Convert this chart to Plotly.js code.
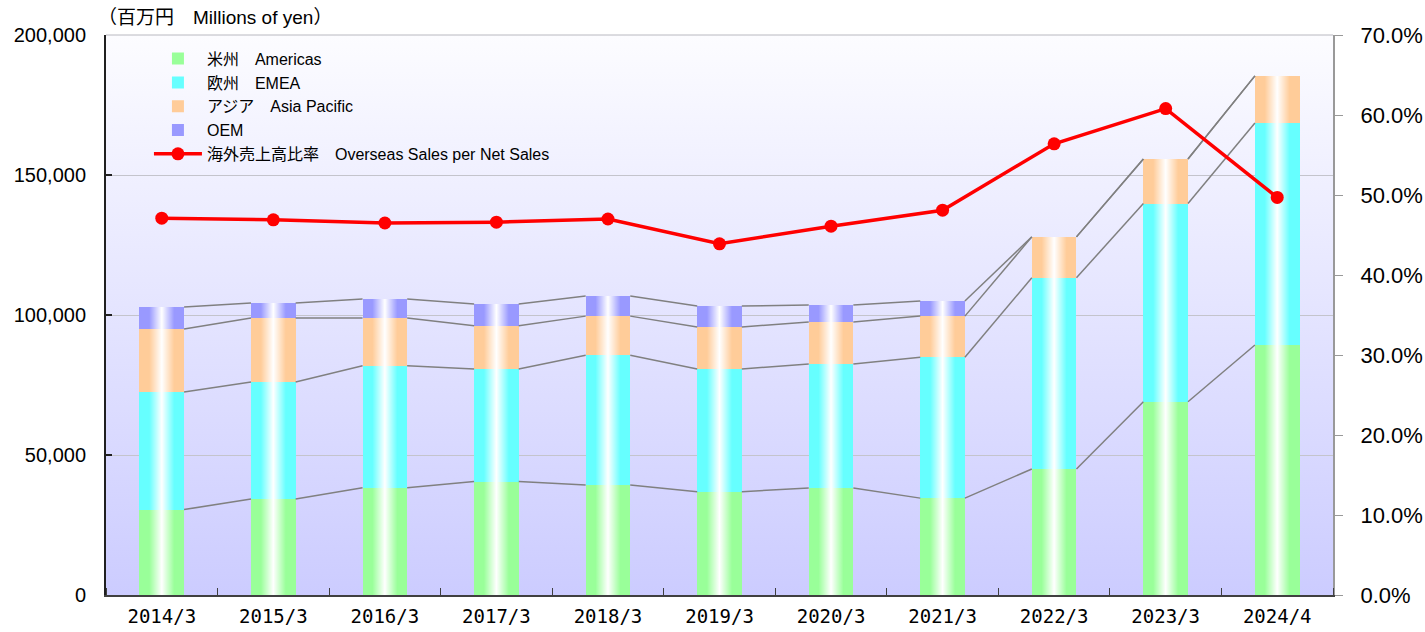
<!DOCTYPE html>
<html>
<head>
<meta charset="utf-8">
<script src="https://cdn.plot.ly/plotly-3.0.1.min.js"></script>
<style>html,body{margin:0;padding:0;background:#fff;}#chart{width:1425px;height:632px;}</style>
</head>
<body>
<div id="chart"></div>
<script>
// ---- data (millions of yen / percent) ----
const categories = ['2014/3','2015/3','2016/3','2017/3','2018/3','2019/3','2020/3','2021/3','2022/3','2023/3','2024/4'];
const americas = [30500, 34300, 38300, 40500, 39300, 36900, 38200, 34600, 45000, 69000, 89300];
const emea     = [42000, 41800, 43600, 40200, 46300, 43800, 44300, 50300, 68300, 70800, 79300];
const asia     = [22500, 22800, 17000, 15500, 14000, 15000, 15000, 14700, 14600, 15900, 16800];
const oem      = [7900, 5400, 6800, 7700, 7200, 7500, 6100, 5400, 0, 0, 0];
const overseasRatio = [47.1, 46.9, 46.5, 46.6, 47.0, 43.9, 46.1, 48.1, 56.4, 60.8, 49.7];

const seriesNames = ['米州　Americas', '欧州　EMEA', 'アジア　Asia Pacific', 'OEM'];
const ratioName = '海外売上高比率　Overseas Sales per Net Sales';

// ---- styling ----
const colors = ['#99ff99', '#66ffff', '#ffcc99', '#9999ff'];
const BW = 0.4;
const xs = categories.map((_, i) => i);
const series = [americas, emea, asia, oem];

const traces = [];
series.forEach((vals, k) => {
  traces.push({
    type: 'bar', x: xs, y: vals, name: seriesNames[k], width: BW,
    marker: {color: colors[k], line: {width: 0}},
    hoverinfo: 'y+name'
  });
});

// cumulative tops
const cums = [];
let run = xs.map(() => 0);
series.forEach(vals => { run = run.map((r, i) => r + vals[i]); cums.push(run.slice()); });
const totals = cums[cums.length - 1];

// white highlight in each bar column
xs.forEach(i => {
  traces.push({
    type: 'scatter', mode: 'none', fill: 'toself',
    x: [i - BW/2, i + BW/2, i + BW/2, i - BW/2, i - BW/2],
    y: [0, 0, totals[i], totals[i], 0],
    fillgradient: {
      type: 'horizontal', start: i - BW/2, stop: i + BW/2,
      colorscale: [[0, 'rgba(255,255,255,0)'], [0.22, 'rgba(255,255,255,0)'], [0.5, 'rgba(255,255,255,1)'], [0.78, 'rgba(255,255,255,0)'], [1, 'rgba(255,255,255,0)']]
    },
    showlegend: false, hoverinfo: 'skip'
  });
});

// connector lines between bars
const cx = [], cy = [];
cums.forEach(c => {
  for (let i = 0; i < xs.length - 1; i++) {
    cx.push(i + BW/2, i + 1 - BW/2, null);
    cy.push(c[i], c[i + 1], null);
  }
});
traces.push({
  type: 'scatter', mode: 'lines', x: cx, y: cy,
  line: {color: '#808080', width: 1.5}, showlegend: false, hoverinfo: 'skip'
});

// ratio line
traces.push({
  type: 'scatter', mode: 'lines+markers', x: xs, y: overseasRatio, yaxis: 'y2',
  name: ratioName, line: {color: '#ff0000', width: 3.5},
  marker: {color: '#ff0000', size: 13}
});

const bgSvg = '<svg xmlns="http://www.w3.org/2000/svg" width="10" height="100" viewBox="0 0 10 100" preserveAspectRatio="none"><defs><linearGradient id="g" x1="0" y1="0" x2="0" y2="1"><stop offset="0" stop-color="#fcfcff"/><stop offset="1" stop-color="#ccccff"/></linearGradient></defs><rect width="10" height="100" fill="url(#g)"/></svg>';

const baseFont = 'Liberation Sans, Arial, Noto Sans CJK JP, sans-serif';

const layout = {
  width: 1425, height: 632,
  margin: {l: 106, r: 92, t: 35, b: 37},
  paper_bgcolor: '#ffffff', plot_bgcolor: 'rgba(0,0,0,0)',
  barmode: 'stack', bargap: 0.6,
  font: {family: baseFont, color: '#000'},
  showlegend: true,
  legend: {
    x: 0.035, y: 0.988, xanchor: 'left', yanchor: 'top',
    bgcolor: 'rgba(0,0,0,0)', traceorder: 'normal',
    font: {size: 16, family: baseFont}, itemwidth: 48, tracegroupgap: 0
  },
  xaxis: {
    range: [-0.5, 10.5], tickmode: 'array', tickvals: xs, ticktext: categories,
    ticks: '', showgrid: false, zeroline: false,
    showline: true, linecolor: '#404040', linewidth: 2,
    ticklabelstandoff: 3,
    tickfont: {size: 19, family: 'DejaVu Sans Mono, monospace'},
    minor: {tickmode: 'linear', tick0: 0.5, dtick: 1, ticks: 'inside', ticklen: 7, tickcolor: '#404040', tickwidth: 1, showgrid: false}
  },
  yaxis: {
    range: [0, 200000], tickmode: 'linear', tick0: 0, dtick: 50000, tickformat: ',.0f',
    showgrid: true, gridcolor: '#c4c4cc', gridwidth: 1, zeroline: false,
    showline: true, linecolor: '#202020', linewidth: 2,
    ticks: 'inside', ticklen: 6, tickcolor: '#202020', tickwidth: 2,
    ticklabelstandoff: 14,
    tickfont: {size: 20}
  },
  yaxis2: {
    overlaying: 'y', side: 'right', range: [0, 70], tickmode: 'linear', tick0: 0, dtick: 10,
    tickformat: '.1f', ticksuffix: '%', showgrid: false, zeroline: false,
    showline: true, linecolor: '#999999', linewidth: 2,
    ticks: 'outside', ticklen: 8, tickcolor: '#999999', tickwidth: 1,
    ticklabelstandoff: 13,
    tickfont: {size: 22}
  },
  images: [{
    source: 'data:image/svg+xml;charset=utf-8,' + encodeURIComponent(bgSvg),
    xref: 'paper', yref: 'paper', x: 0, y: 1, sizex: 1, sizey: 1,
    xanchor: 'left', yanchor: 'top', sizing: 'stretch', layer: 'below'
  }],
  shapes: [{
    type: 'line', xref: 'paper', yref: 'paper', x0: 0, x1: 1, y0: 1, y1: 1,
    line: {color: '#b8b8c0', width: 1}
  }],
  annotations: [{
    text: '（百万円　Millions of yen）', xref: 'paper', yref: 'paper',
    x: -0.008, y: 1.032, xanchor: 'left', yanchor: 'middle', showarrow: false,
    font: {size: 19, family: baseFont}
  }]
};

Plotly.newPlot('chart', traces, layout, {displayModeBar: false, staticPlot: true});
</script>
</body>
</html>
